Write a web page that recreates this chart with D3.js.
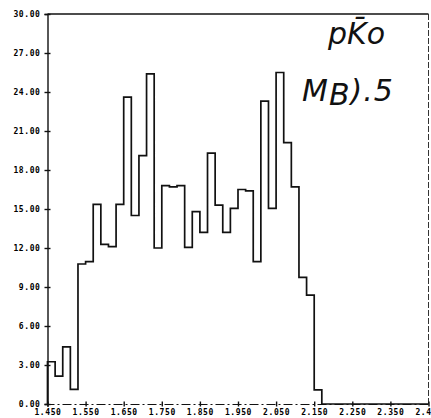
<!DOCTYPE html>
<html>
<head>
<meta charset="utf-8">
<script src="https://cdn.jsdelivr.net/npm/d3@7"></script>
<style>
  html, body { margin: 0; padding: 0; background: #fff; }
  svg { display: block; }
</style>
</head>
<body>
<div id="chart"></div>
<script>
const WIDTH = 431;
const HEIGHT = 418;
const MARGIN = { top: 14, right: 2.5, bottom: 14, left: 47.5 };

// Bin lower edges (width 0.02) and counts.
const binEdges = [
    1.45, 1.47, 1.49, 1.51, 1.53, 1.55, 1.57, 1.59, 1.61, 1.63,
    1.65, 1.67, 1.69, 1.71, 1.73, 1.75, 1.77, 1.79, 1.81, 1.83,
    1.85, 1.87, 1.89, 1.91, 1.93, 1.95, 1.97, 1.99, 2.01, 2.03,
    2.05, 2.07, 2.09, 2.11, 2.13, 2.15
];
const binCounts = [
    3.25, 2.15, 4.4, 1.13, 10.77, 10.95, 15.36, 12.28, 12.1, 15.36,
    23.6, 14.5, 19.1, 25.4, 12.0, 16.8, 16.7, 16.8, 12.05, 14.8,
    13.2, 19.3, 15.3, 13.2, 15.05, 16.5, 16.4, 10.95, 23.3, 15.05,
    25.5, 20.1, 16.7, 9.74, 8.38, 1.08
];
const BIN_WIDTH = 0.02;

const xTicks = [1.45, 1.55, 1.65, 1.75, 1.85, 1.95, 2.05, 2.15, 2.25, 2.35, 2.45];
const yTicks = [0, 3, 6, 9, 12, 15, 18, 21, 24, 27, 30];

const svg = d3.select("#chart")
    .append("svg")
    .attr("width", WIDTH)
    .attr("height", HEIGHT);

svg.append("rect")
    .attr("width", WIDTH)
    .attr("height", HEIGHT)
    .attr("fill", "#fff");

const xScale = d3.scaleLinear()
    .domain([1.45, 2.45])
    .range([MARGIN.left, WIDTH - MARGIN.right]);

const yScale = d3.scaleLinear()
    .domain([0, 30])
    .range([HEIGHT - MARGIN.bottom, MARGIN.top]);

// Frame: solid top, broken right edge.
svg.append("line")
    .attr("x1", xScale(1.45)).attr("x2", xScale(2.45))
    .attr("y1", yScale(30)).attr("y2", yScale(30))
    .attr("stroke", "#111").attr("stroke-width", 1.6);

svg.append("line")
    .attr("x1", xScale(2.45)).attr("x2", xScale(2.45))
    .attr("y1", yScale(30)).attr("y2", yScale(0))
    .attr("stroke", "#333").attr("stroke-width", 1)
    .attr("stroke-dasharray", "6,2");

// Axes with cross-shaped tick marks, like the plotter output.
const tickFont = g => g.selectAll("text")
    .attr("font-family", "'DejaVu Sans Mono', monospace")
    .attr("font-weight", "bold")
    .attr("font-size", "8px")
    .attr("letter-spacing", "0.6px")
    .attr("fill", "#000");

const yAxis = svg.append("g")
    .attr("transform", `translate(${MARGIN.left},0)`)
    .call(d3.axisLeft(yScale).tickValues(yTicks).tickFormat(d3.format(".2f")).tickSize(3).tickPadding(4))
    .call(tickFont);
yAxis.select(".domain").attr("stroke", "#111").attr("stroke-width", 1.4);
yAxis.selectAll(".tick line").attr("x1", -3).attr("x2", 3).attr("stroke", "#111").attr("stroke-width", 1.4);

const xAxis = svg.append("g")
    .attr("transform", `translate(0,${yScale(0)})`)
    .call(d3.axisBottom(xScale).tickValues(xTicks).tickFormat(d3.format(".3f")).tickSize(3).tickPadding(2))
    .call(tickFont);
xAxis.select(".domain").attr("stroke", "#111").attr("stroke-width", 1.2).attr("stroke-dasharray", "9,3,2,3");
xAxis.selectAll(".tick line").attr("y1", -2.5).attr("y2", 2.5).attr("stroke", "#111").attr("stroke-width", 1.4);

// Histogram outline as a step line.
const points = [[binEdges[0], 0]];
binEdges.forEach((edge, i) => points.push([edge, binCounts[i]]));
const lastEdge = binEdges[binEdges.length - 1] + BIN_WIDTH;
points.push([lastEdge, 0]);
points.push([xScale.domain()[1], 0]);

const stepLine = d3.line()
    .curve(d3.curveStepAfter)
    .x(d => xScale(d[0]))
    .y(d => yScale(d[1]));

svg.append("path")
    .attr("d", stepLine(points))
    .attr("fill", "none")
    .attr("stroke", "#111")
    .attr("stroke-width", 1.7);

// Handwritten annotation.
const note = svg.append("g")
    .attr("font-family", "'DejaVu Sans', sans-serif")
    .attr("font-style", "italic")
    .attr("fill", "#111");

note.append("text")
    .attr("x", 328)
    .attr("y", 44)
    .attr("font-size", "30px")
    .text("pK\u0304o");

const mb = note.append("text")
    .attr("x", 302)
    .attr("y", 101)
    .attr("font-size", "30px")
    .attr("letter-spacing", "1px");
mb.append("tspan").text("M");
mb.append("tspan").attr("dy", 4).text("B");
mb.append("tspan").attr("dy", -4).text(").5");
</script>
</body>
</html>
